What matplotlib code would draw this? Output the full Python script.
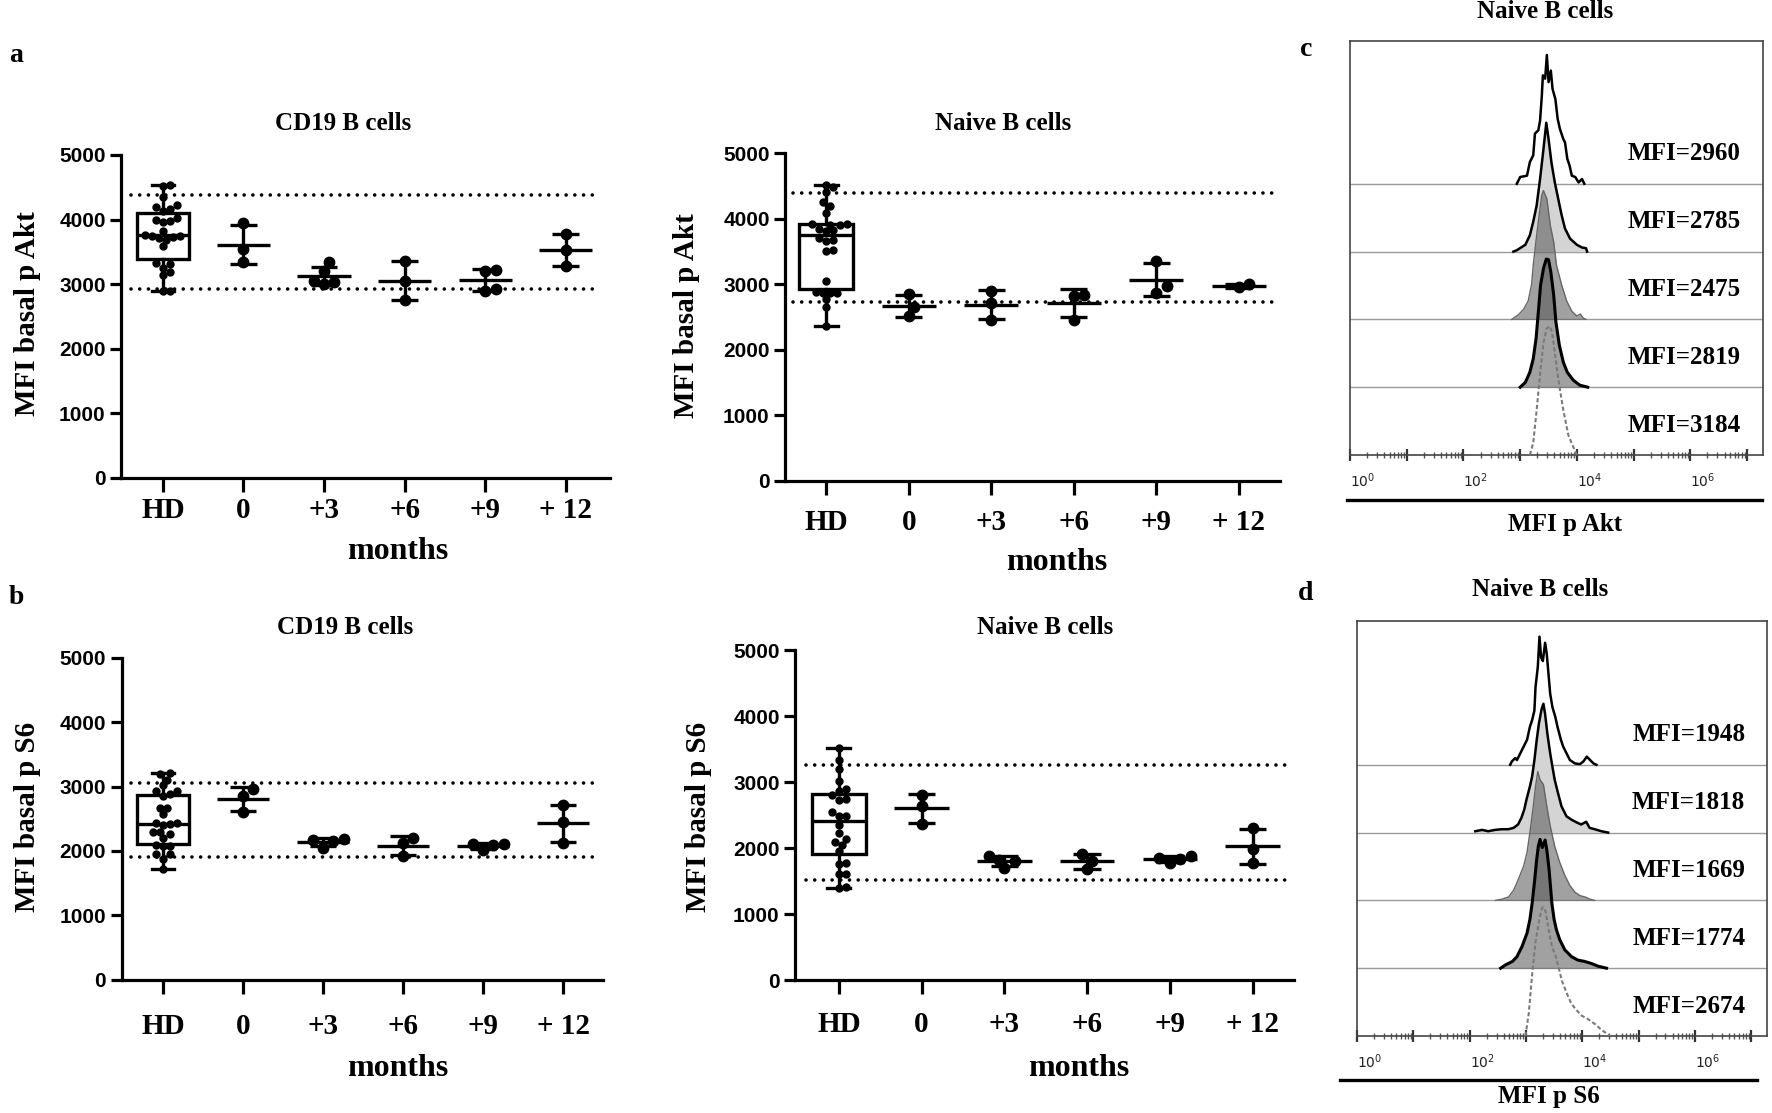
import numpy as np
import matplotlib
matplotlib.use("Agg")
import matplotlib.pyplot as plt
from matplotlib.ticker import LogLocator, NullFormatter

SERIF = "Liberation Serif"
SANS = "Liberation Sans"

# ---- data ----
categories = ["HD", "0", "+3", "+6", "+9", "+ 12"]

akt_cd19_hd = [4540, 4520, 4350, 4230, 4200, 4160, 4130, 4020, 3990, 3980, 3970, 3760, 3750,
               3830, 3740, 3730, 3710, 3680, 3590, 3330, 3310, 3250, 3190, 3140, 2900, 2890]
akt_cd19_months = [[3940, 3550, 3350], [3340, 3010, 3050, 3040, 3200], [3360, 3050, 2760],
                   [3220, 3200, 2900, 2930], [3780, 3530, 3280]]
akt_cd19_ref = [2922, 4380]

akt_naive_hd = [4519, 4480, 4400, 4250, 4190, 4090, 3920, 3910, 3915, 3905, 3840, 3820, 3810,
                3700, 3680, 3660, 3520, 3500, 3050, 2880, 2870, 2860, 2870, 2770, 2660, 2370]
akt_naive_months = [[2850, 2520, 2650], [2900, 2720, 2450], [2840, 2820, 2460],
                    [3360, 2870, 2980], [2950, 3000]]
akt_naive_ref = [2722, 4392]

s6_cd19_hd = [3204, 3195, 3110, 3020, 2930, 2935, 2860, 2880, 2670, 2665, 2570, 2440, 2420,
              2430, 2400, 2260, 2300, 2290, 2200, 2080, 2070, 2085, 1950, 1955, 1870, 1716]
s6_cd19_months = [[2970, 2860, 2600], [2050, 2170, 2150, 2180], [2200, 2120, 1920],
                  [2010, 2090, 2100, 2110], [2710, 2450, 2130]]
s6_cd19_ref = [1912, 3059]

s6_naive_hd = [3514, 3340, 3190, 3010, 2900, 2860, 2810, 2750, 2730, 2490, 2480, 2540,
               2350, 2230, 2140, 2050, 2090, 1960, 1760, 1770, 1610, 1600, 1410, 1400]
s6_naive_months = [[2810, 2630, 2370], [1880, 1690, 1820, 1810], [1910, 1680, 1810],
                   [1770, 1880, 1840, 1850], [2310, 1990, 1780]]
s6_naive_ref = [1509, 3253]

# flow histograms: (log10 intensity, height in lane units), top lane first
akt_mfi = [2960, 2785, 2475, 2819, 3184]
akt_curves = [
    [(2.94, 0), (3.00, .10), (3.12, .12), (3.17, .32), (3.23, .42), (3.26, .74), (3.32, .79),
     (3.35, .93), (3.38, 1.28), (3.40, 1.60), (3.44, 1.55), (3.47, 1.90), (3.50, 1.50),
     (3.54, 1.67), (3.57, 1.40), (3.62, 1.25), (3.66, .96), (3.70, .81), (3.76, .66),
     (3.79, .61), (3.83, .37), (3.87, .27), (3.91, .12), (3.97, .10), (4.03, .02),
     (4.09, .07), (4.13, 0)],
    [(2.88, 0), (2.94, .02), (3.09, .10), (3.17, .24), (3.23, .44), (3.29, .68), (3.35, 1.07),
     (3.41, 1.51), (3.46, 1.90), (3.50, 1.66), (3.55, 1.32), (3.61, 1.02), (3.67, .78),
     (3.73, .54), (3.79, .34), (3.88, .19), (4.00, .10), (4.09, .06), (4.16, .05), (4.18, 0)],
    [(2.85, 0), (2.97, .07), (3.06, .15), (3.14, .27), (3.20, .51), (3.23, .80), (3.29, 1.24),
     (3.34, 1.58), (3.38, 1.83), (3.41, 1.90), (3.47, 1.78), (3.53, 1.39), (3.59, 1.14),
     (3.64, .80), (3.73, .51), (3.82, .27), (3.91, .12), (4.00, .05), (4.06, .08),
     (4.11, .02), (4.16, 0)],
    [(3.00, 0), (3.09, .07), (3.17, .22), (3.23, .42), (3.28, .72), (3.32, 1.11), (3.36, 1.51),
     (3.41, 1.75), (3.46, 1.89), (3.50, 1.88), (3.54, 1.70), (3.59, 1.36), (3.63, .96),
     (3.69, .62), (3.76, .37), (3.83, .22), (3.94, .10), (4.05, .03), (4.19, 0)],
    [(3.17, 0), (3.23, .18), (3.29, .66), (3.35, 1.19), (3.41, 1.66), (3.47, 1.87), (3.52, 1.90),
     (3.56, 1.82), (3.62, 1.45), (3.67, 1.13), (3.76, .66), (3.85, .29), (3.94, .11), (4.00, 0)],
]

s6_mfi = [1948, 1818, 1669, 1774, 2674]
s6_curves = [
    [(2.72, 0), (2.75, .05), (2.81, .10), (2.84, .07), (2.90, .17), (2.96, .27), (3.02, .37),
     (3.07, .56), (3.11, .66), (3.15, .80), (3.17, 1.15), (3.21, 1.44), (3.24, 1.89),
     (3.27, 1.58), (3.30, 1.53), (3.34, 1.80), (3.37, 1.63), (3.40, 1.34), (3.43, 1.05),
     (3.47, .85), (3.52, .71), (3.56, .56), (3.62, .37), (3.66, .27), (3.72, .17),
     (3.78, .07), (3.87, .02), (3.96, .01), (4.02, .05), (4.08, .12), (4.14, .07),
     (4.20, .02), (4.25, 0)],
    [(2.10, .02), (2.22, .04), (2.33, .02), (2.45, .04), (2.57, .05), (2.69, .05), (2.78, .07),
     (2.86, .12), (2.92, .22), (2.97, .34), (3.01, .49), (3.07, .68), (3.11, .83), (3.15, 1.07),
     (3.19, 1.36), (3.23, 1.61), (3.28, 1.83), (3.31, 1.90), (3.34, 1.75), (3.38, 1.46),
     (3.43, 1.17), (3.47, .97), (3.51, .78), (3.57, .58), (3.63, .39), (3.72, .24),
     (3.81, .19), (3.90, .15), (3.98, .12), (4.07, .16), (4.13, .07), (4.22, .05),
     (4.34, .02), (4.46, 0)],
    [(2.46, 0), (2.58, .02), (2.69, .05), (2.78, .15), (2.87, .32), (2.96, .51), (3.02, .71),
     (3.07, 1.00), (3.13, 1.39), (3.17, 1.68), (3.21, 1.90), (3.25, 1.78), (3.31, 1.71),
     (3.37, 1.39), (3.43, 1.10), (3.51, .80), (3.60, .56), (3.69, .37), (3.78, .22),
     (3.87, .12), (3.96, .07), (4.05, .05), (4.13, .02), (4.22, 0)],
    [(2.55, 0), (2.64, .05), (2.76, .10), (2.84, .17), (2.93, .32), (3.02, .52), (3.07, .72),
     (3.11, .96), (3.15, 1.26), (3.19, 1.60), (3.22, 1.80), (3.25, 1.90), (3.29, 1.78),
     (3.34, 1.89), (3.37, 1.75), (3.41, 1.46), (3.46, .96), (3.50, .72), (3.54, .57),
     (3.60, .42), (3.69, .27), (3.81, .17), (3.92, .12), (4.04, .10), (4.16, .07),
     (4.28, .03), (4.43, 0)],
    [(2.99, 0), (3.05, .33), (3.11, .91), (3.17, 1.39), (3.23, 1.68), (3.28, 1.88), (3.31, 1.90),
     (3.35, 1.83), (3.40, 1.59), (3.46, 1.32), (3.52, 1.20), (3.58, 1.01), (3.64, .81),
     (3.73, .62), (3.81, .47), (3.90, .38), (3.99, .30), (4.08, .26), (4.17, .21),
     (4.25, .16), (4.34, .09), (4.43, .04), (4.49, 0)],
]

# ---- figure ----
W, H = 1772, 1113
fig = plt.figure(figsize=(W / 100, H / 100), dpi=100)


def box(left, top, right, bottom):
    return [left / W, 1 - bottom / H, (right - left) / W, (bottom - top) / H]


def ftext(x, y, s, **kw):
    kw.setdefault("ha", "center")
    kw.setdefault("va", "center")
    kw.setdefault("family", SERIF)
    kw.setdefault("weight", "bold")
    fig.text(x / W, 1 - y / H, s, **kw)


def swarm(ax, x0, vals, diam):
    # simple beeswarm, in pixels
    to_px = ax.transData.transform
    ys = np.array([to_px((x0, v))[1] for v in vals])
    xscale = to_px((1, 0))[0] - to_px((0, 0))[0]
    steps = [0]
    for k in range(1, 30):
        steps += [k, -k]
    placed, offs = [], np.zeros(len(vals))
    for i in np.argsort(ys):
        for s in steps:
            dx = s * diam * 0.5
            if all((dx - px) ** 2 + (ys[i] - py) ** 2 >= (diam * 0.95) ** 2 for px, py in placed):
                break
        placed.append((dx, ys[i]))
        offs[i] = dx / xscale
    return x0 + offs


def scatter_panel(rect, xlim, hd, months, ref, pad):
    ax = fig.add_axes(rect)
    ax.set_xlim(*xlim)
    ax.set_ylim(0, 5000)
    for sp in ["top", "right"]:
        ax.spines[sp].set_visible(False)
    for sp in ["left", "bottom"]:
        ax.spines[sp].set_linewidth(2.3)

    dots = ax.hlines(ref, -0.4, 5.4, colors="black", lw=2.6, linestyles=(0, (0.01, 2.4)), zorder=1)
    dots.set_capstyle("round")

    lw = 2.4
    ax.boxplot([hd], positions=[0], widths=0.65, whis=(0, 100), showfliers=False,
               patch_artist=True, capwidths=0.28, manage_ticks=False,
               boxprops=dict(facecolor="white", edgecolor="black", lw=lw),
               medianprops=dict(color="black", lw=lw),
               whiskerprops=dict(color="black", lw=lw),
               capprops=dict(color="black", lw=lw), zorder=2)
    ax.plot(swarm(ax, 0, hd, 7.0), hd, "o", color="black", ms=5, zorder=4)

    for i, vals in enumerate(months, start=1):
        m, s = np.mean(vals), np.std(vals, ddof=1)
        ax.plot(swarm(ax, i, vals, 10.4), vals, "o", color="black", ms=7.5, zorder=4)
        ax.hlines(m, i - 0.33, i + 0.33, color="black", lw=lw, zorder=5)
        ax.vlines(i, m - s, m + s, color="black", lw=lw, zorder=5)
        ax.hlines([m - s, m + s], i - 0.165, i + 0.165, color="black", lw=lw, zorder=5)

    ax.set_yticks(range(0, 5001, 1000))
    ax.set_xticks(range(6))
    ax.set_xticklabels(categories, family=SERIF, weight="bold", size=21)
    for lab in ax.get_yticklabels():
        lab.set_family(SANS)
        lab.set_weight("bold")
        lab.set_size(15)
    ax.tick_params(axis="y", length=8, width=2.3, pad=3)
    ax.tick_params(axis="x", length=10, width=2.3, pad=pad)
    return ax


scatter_panel(box(121, 155, 610, 478), (-0.52, 5.55), akt_cd19_hd, akt_cd19_months, akt_cd19_ref, 3.5)
scatter_panel(box(785, 153, 1280, 481), (-0.5, 5.5), akt_naive_hd, akt_naive_months, akt_naive_ref, 10)
scatter_panel(box(121.5, 658, 603, 979.5), (-0.52, 5.5), s6_cd19_hd, s6_cd19_months, s6_cd19_ref, 14)
scatter_panel(box(795, 650, 1294, 980), (-0.53, 5.5), s6_naive_hd, s6_naive_months, s6_naive_ref, 12.5)


def hist_panel(rect, curves, mfis, label_y):
    ax = fig.add_axes(rect)
    ax.set_xscale("log")
    ax.set_xlim(1, 10 ** 7.28)
    top = rect[3] * H / 67.8
    ax.set_ylim(0, top)
    for sp in ax.spines.values():
        sp.set_linewidth(1.2)
        sp.set_color("#444444")
    for b in range(1, 5):
        ax.axhline(b, color="#9a9a9a", lw=1.0, zorder=0.5)

    styles = [
        dict(face=None, edge="black", lw=1.8, ls="-", alpha=1),
        dict(face="#d4d4d4", edge="black", lw=1.8, ls="-", alpha=1),
        dict(face="#555555", edge="#666666", lw=1.0, ls="-", alpha=0.55),
        dict(face="#555555", edge="black", lw=2.2, ls="-", alpha=0.55),
        dict(face=None, edge="#7a7a7a", lw=1.5, ls=(0, (2.0, 1.2)), alpha=1),
    ]
    for k, (curve, st) in enumerate(zip(curves, styles)):
        base = 4 - k
        lx = np.array([p[0] for p in curve])
        h = np.array([p[1] for p in curve])
        x = 10 ** lx
        if st["face"]:
            ax.fill_between(x, base, base + h, color=st["face"], alpha=st["alpha"], lw=0, zorder=1 + k)
        ax.plot(x, base + h, color=st["edge"], lw=st["lw"], ls=st["ls"], zorder=1.5 + k)
        ax.text(10 ** 5.89, base + 0.44, "MFI=%d" % mfis[k], ha="center", va="center",
                family=SERIF, weight="bold", size=18, zorder=10)

    ax.set_yticks([])
    ax.set_xticks(10.0 ** np.arange(8))
    ax.set_xticklabels([r"$\mathregular{10^{%d}}$" % e if e % 2 == 0 else "" for e in range(8)],
                       size=10, color="#222222")
    for lab in ax.get_xticklabels():
        lab.set_ha("left")
    ax.xaxis.set_minor_locator(LogLocator(base=10, subs=range(2, 10), numticks=20))
    ax.xaxis.set_minor_formatter(NullFormatter())
    ax.tick_params(axis="x", which="major", direction="inout", length=8, width=1.6,
                   color="#333333", pad=8)
    ax.tick_params(axis="x", which="minor", direction="inout", length=4, width=1.0,
                   color="#555555")
    return ax


hist_panel(box(1350, 41, 1763, 455), akt_curves, akt_mfi, None)
hist_panel(box(1357, 621, 1767, 1036), s6_curves, s6_mfi, None)

# thick lines under the histogram axes
fig.add_artist(plt.Line2D([1347 / W, 1762 / W], [1 - 500 / H, 1 - 500 / H], color="black", lw=2.4))
fig.add_artist(plt.Line2D([1340 / W, 1757 / W], [1 - 1080 / H, 1 - 1080 / H], color="black", lw=2.4))

# titles, axis labels, panel letters
ftext(343, 123, "CD19 B cells", size=18)
ftext(1003, 124, "Naive B cells", size=18)
ftext(345, 628, "CD19 B cells", size=18)
ftext(1045, 628, "Naive B cells", size=18)
ftext(1545, 12, "Naive B cells", size=18)
ftext(1540, 590, "Naive B cells", size=18)

ftext(28, 314, "MFI basal p Akt", size=21, rotation=90)
ftext(687, 316, "MFI basal p Akt", size=21, rotation=90)
ftext(28, 817, "MFI basal p S6", size=21, rotation=90)
ftext(698, 817, "MFI basal p S6", size=21, rotation=90)

ftext(398, 551, "months", size=23)
ftext(1057, 563, "months", size=23)
ftext(398, 1069, "months", size=23)
ftext(1079, 1069, "months", size=23)

ftext(1565, 525, "MFI p Akt", size=18)
ftext(1549, 1096, "MFI p S6", size=18)

ftext(16, 55, "a", size=20)
ftext(16, 597, "b", size=20)
ftext(1306, 50, "c", size=20)
ftext(1306, 593, "d", size=20)

fig.savefig("out.png", dpi=100, facecolor="white")
